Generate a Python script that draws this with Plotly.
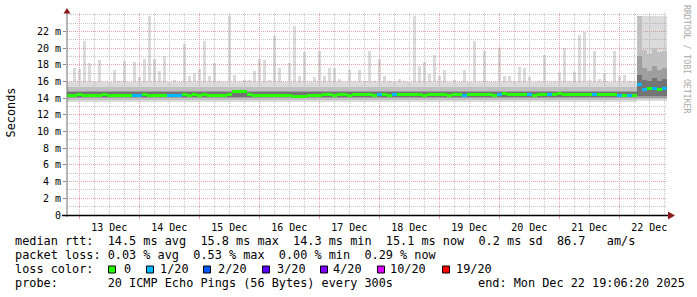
import plotly.graph_objects as go
import pandas as pd

# ---------------- data ----------------
start = pd.Timestamp("2025-12-12 19:06:20")
end = pd.Timestamp("2025-12-22 19:06:20")
n_bins = 120                      # 2-hour consolidation steps
bin_hours = 2
times = [start + pd.Timedelta(hours=bin_hours * i + bin_hours / 2) for i in range(n_bins)]

# median rtt per step (ms)
median_ms = [
    14.35, 14.35, 14.4, 14.35, 14.3, 14.35, 14.35, 14.4, 14.35, 14.3,
    14.35, 14.35, 14.3, 14.35, 14.3, 14.4, 14.35, 14.35, 14.3, 14.35,
    14.3, 14.35, 14.35, 14.4, 14.35, 14.4, 14.35, 14.4, 14.35, 14.35,
    14.35, 14.35, 14.4, 14.75, 14.8, 14.8, 14.4, 14.35, 14.35, 14.3,
    14.35, 14.35, 14.3, 14.35, 14.3, 14.2, 14.2, 14.25, 14.3, 14.35,
    14.35, 14.4, 14.4, 14.35, 14.4, 14.4, 14.35, 14.4, 14.45, 14.4,
    14.4, 14.35, 14.4, 14.4, 14.35, 14.4, 14.4, 14.45, 14.4, 14.4,
    14.4, 14.35, 14.4, 14.45, 14.4, 14.4, 14.35, 14.4, 14.4, 14.35,
    14.4, 14.4, 14.45, 14.4, 14.4, 14.35, 14.4, 14.5, 14.4, 14.4,
    14.4, 14.45, 14.4, 14.35, 14.4, 14.4, 14.45, 14.45, 14.5, 14.4,
    14.4, 14.45, 14.4, 14.4, 14.45, 14.4, 14.4, 14.45, 14.4, 14.4,
    14.35, 14.3, 14.3, 14.35, 15.6, 15.0, 15.1, 15.2, 15.05, 15.1,
]

# slowest ping per step (ms)
max_ms = [
    15.8, 17.6, 17.5, 20.9, 18.2, 15.8, 18.6, 15.7, 15.8, 17.4,
    16.0, 18.4, 15.8, 18.3, 16.5, 18.7, 23.9, 18.7, 17.3, 19.0,
    15.8, 16.2, 15.6, 20.5, 16.6, 17.0, 17.5, 20.8, 16.6, 18.2,
    16.0, 15.4, 23.9, 16.8, 15.9, 16.2, 16.2, 17.2, 18.7, 18.6,
    16.2, 21.5, 17.6, 15.8, 18.2, 22.7, 16.6, 19.5, 15.9, 16.5,
    19.6, 16.6, 17.6, 17.6, 16.3, 15.8, 17.4, 16.1, 17.4, 16.0,
    19.6, 16.0, 18.7, 16.6, 16.0, 15.9, 16.3, 16.1, 15.8, 23.9,
    17.8, 18.3, 16.9, 19.2, 16.6, 17.4, 15.9, 16.2, 15.9, 17.4,
    15.9, 20.9, 15.9, 19.6, 15.9, 15.8, 20.0, 16.6, 16.6, 16.0,
    17.7, 17.6, 16.5, 15.8, 16.1, 19.2, 15.7, 16.0, 17.1, 20.0,
    16.0, 17.1, 21.6, 21.9, 16.2, 19.6, 16.3, 17.0, 15.8, 19.6,
    16.6, 16.8, 16.0, 15.9, 23.9, 23.9, 23.9, 23.9, 23.9, 23.9,
]

# lost pings (out of 20) per step
loss_count = [
    0, 0, 0, 0, 0, 0, 0, 0, 0, 0,
    0, 0, 0, 1, 1, 0, 0, 0, 0, 0,
    1, 1, 1, 0, 0, 0, 0, 0, 0, 0,
    0, 0, 0, 0, 0, 0, 0, 0, 0, 0,
    0, 0, 0, 0, 0, 0, 0, 0, 0, 0,
    0, 0, 0, 0, 0, 0, 0, 0, 0, 0,
    0, 0, 1, 0, 0, 1, 0, 0, 0, 0,
    0, 0, 0, 0, 0, 0, 0, 0, 0, 1,
    0, 0, 0, 0, 0, 0, 1, 0, 0, 0,
    0, 0, 1, 0, 0, 0, 1, 0, 0, 0,
    0, 0, 0, 0, 0, 1, 0, 0, 0, 0,
    1, 0, 1, 0, 1, 1, 0, 1, 0, 1,
]

# smoke bands (ping spread) : outer -> inner
smoke1_lo = [13.55] * 114 + [13.6] * 6
smoke1_hi = [15.9] * 114 + [23.9] * 6
smoke2_lo = [13.8] * 114 + [13.85] * 6
smoke2_hi = [15.3] * 114 + [23.9, 19.8, 19.3, 20.0, 19.5, 19.6]
smoke3_lo = [14.0] * 114 + [14.05] * 6
smoke3_hi = [14.85] * 114 + [19.0, 17.6, 17.3, 17.9, 17.4, 17.6]
smoke4_lo = [14.12] * 114 + [14.3] * 6
smoke4_hi = [14.72] * 114 + [16.8, 16.2, 16.0, 16.4, 16.1, 16.3]

loss_levels = ["0", "1/20", "2/20", "3/20", "4/20", "10/20", "19/20"]
loss_colors = ["#26ff00", "#00b8ff", "#0059ff", "#5e00ff", "#7e00ff", "#dd00ff", "#ff0000"]

y_tick_vals = [0, 2, 4, 6, 8, 10, 12, 14, 16, 18, 20, 22]
y_tick_text = ["0", "2 m", "4 m", "6 m", "8 m", "10 m", "12 m", "14 m", "16 m", "18 m", "20 m", "22 m"]

legend_rtt = "median rtt:  14.5 ms avg  15.8 ms max  14.3 ms min  15.1 ms now  0.2 ms sd  86.7   am/s"
legend_loss = "packet loss: 0.03 % avg  0.53 % max  0.00 % min  0.29 % now"
legend_probe = "probe:       20 ICMP Echo Pings (56 Bytes) every 300s"
legend_end = "end: Mon Dec 22 19:06:20 2025"

# ---------------- figure ----------------
W, H = 697, 297
L, R, T, B = 67, 30, 13, 82
PW, PH = W - L - R, H - T - B
bin_ms = bin_hours * 3600 * 1000
MONO = "DejaVu Sans Mono"


def px(x):
    return (x - L) / PW


def py(y):
    return (T + PH - y) / PH


def nb(s):
    return s.replace(" ", "\u00a0")


fig = go.Figure()


def band(lo, hi, color, width):
    fig.add_trace(go.Bar(
        x=times, y=[h - l for l, h in zip(lo, hi)], base=lo, width=width,
        marker=dict(color=color, line=dict(width=0)), hoverinfo="skip"))


LIGHT = "rgba(150,150,150,0.34)"
band(smoke1_lo, smoke1_hi, LIGHT, bin_ms)
# spikes of the slowest pings above the light smoke
fig.add_trace(go.Bar(
    x=times, y=[max(m - h, 0) for m, h in zip(max_ms, smoke1_hi)], base=smoke1_hi,
    width=bin_ms * 0.7, marker=dict(color=LIGHT, line=dict(width=0)),
    hoverinfo="skip"))
band(smoke2_lo, smoke2_hi, "#c0c0c0", bin_ms)
band(smoke3_lo, smoke3_hi, "#9e9e9e", bin_ms)
band(smoke4_lo, smoke4_hi, "#747474", bin_ms)

# median line coloured by loss
line_h = 0.36
fig.add_trace(go.Bar(
    x=times, y=[line_h] * n_bins, base=[m - line_h / 2 for m in median_ms], width=bin_ms,
    marker=dict(color=[loss_colors[c] for c in loss_count], line=dict(width=0)),
    hoverinfo="skip"))

RED_GRID = "#e6a3a3"
GRAY_GRID = "#c6c6c6"

fig.update_layout(
    width=W, height=H, margin=dict(l=L, r=R, t=T, b=B),
    paper_bgcolor="white", plot_bgcolor="white",
    barmode="overlay", bargap=0, showlegend=False,
    font=dict(family=MONO, size=10, color="black"),
    xaxis=dict(
        type="date", range=[start, end],
        tick0="2025-12-13", dtick=86400000, ticklabelmode="period", tickformat="%d %b",
        showgrid=True, gridcolor=RED_GRID, griddash="1px,1px", gridwidth=1,
        ticks="outside", ticklen=3, tickcolor=RED_GRID,
        minor=dict(tick0="2025-12-13", dtick=6 * 3600 * 1000, showgrid=True,
                   gridcolor=GRAY_GRID, griddash="1px,1px", gridwidth=1, ticks=""),
        zeroline=False, showline=False, fixedrange=True,
        tickfont=dict(family=MONO, size=10, color="black"),
    ),
    yaxis=dict(
        range=[0, 24.2], tickvals=y_tick_vals, ticktext=y_tick_text,
        showgrid=True, gridcolor=RED_GRID, griddash="1px,1px", gridwidth=1,
        ticks="outside", ticklen=3, tickcolor="#888888",
        minor=dict(dtick=1, showgrid=True, gridcolor=GRAY_GRID, griddash="1px,1px",
                   gridwidth=1, ticks=""),
        zeroline=False, showline=False, fixedrange=True,
        tickfont=dict(family=MONO, size=10, color="black"),
    ),
)

shapes = [
    # y axis line + arrow
    dict(type="line", xref="paper", yref="paper", x0=px(67), x1=px(67), y0=py(217), y1=py(12),
         line=dict(color="#707070", width=1)),
    dict(type="path", xref="paper", yref="paper",
         path=f"M {px(63.5)},{py(13.5)} L {px(70.5)},{py(13.5)} L {px(67)},{py(8)} Z",
         fillcolor="#8b1a1a", line=dict(width=0)),
    # x axis line + arrow
    dict(type="line", xref="paper", yref="paper", x0=px(62), x1=px(669), y0=py(215.5), y1=py(215.5),
         line=dict(color="black", width=1.5)),
    dict(type="path", xref="paper", yref="paper",
         path=f"M {px(668)},{py(211.5)} L {px(668)},{py(219.5)} L {px(675)},{py(215.5)} Z",
         fillcolor="#8b1a1a", line=dict(width=0)),
]

annotations = []


def text(s, x, y, size=11.85, color="black", **kw):
    d = dict(text=nb(s), x=px(x), y=py(y), xref="paper", yref="paper", showarrow=False,
             xanchor="left", yanchor="middle", borderpad=0, borderwidth=0,
             font=dict(family=MONO, size=size, color=color))
    d.update(kw)
    annotations.append(d)


text(legend_rtt, 15, 241.5)
text(legend_loss, 15, 255.2)
text("loss color:", 15, 269)
box_x = [108, 146, 203, 262, 320, 377, 442]
label_x = [124, 160, 218, 277, 333, 390, 456]
for lvl, col, bx, lx in zip(loss_levels, loss_colors, box_x, label_x):
    shapes.append(dict(type="rect", xref="paper", yref="paper",
                       x0=px(bx + 0.5), x1=px(bx + 7.5), y0=py(266), y1=py(273),
                       fillcolor=col, line=dict(color="black", width=1)))
    text(lvl, lx, 269)
text(legend_probe, 15, 282.8)
text(legend_end, 478, 282.8)

# axis title and watermark
annotations.append(dict(text="Seconds", x=px(10), y=py(112.5), xref="paper", yref="paper",
                        showarrow=False, textangle=-90, xanchor="center", yanchor="middle",
                        font=dict(family=MONO, size=11.85, color="black")))
annotations.append(dict(text=nb("RRDTOOL / TOBI OETIKER"), x=px(687), y=py(59), xref="paper",
                        yref="paper", showarrow=False, textangle=90, xanchor="center",
                        yanchor="middle", font=dict(family=MONO, size=8.2, color="#a9a9a9")))

fig.update_layout(shapes=shapes, annotations=annotations)
fig.write_html("out.html")
